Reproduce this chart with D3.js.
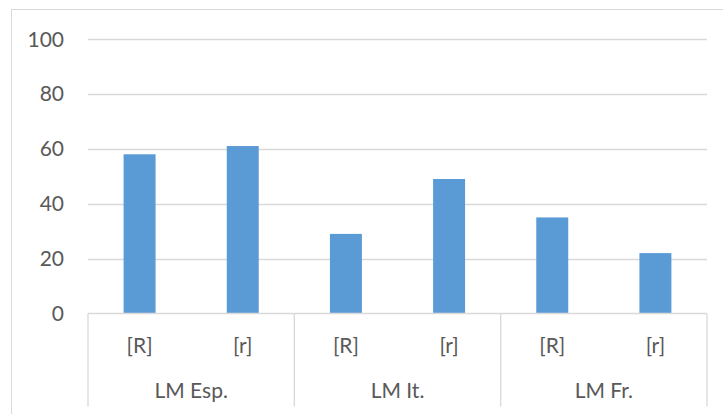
<!DOCTYPE html>
<html>
<head>
<meta charset="utf-8">
<script src="https://cdn.jsdelivr.net/npm/d3@7"></script>
<style>
  body { margin: 0; background: #fff; }
  svg text { font-family: Lato, 'Open Sans', sans-serif; fill: #595959; }
</style>
</head>
<body>
<div id="container"></div>
<script>
const groups = ['LM Esp.', 'LM It.', 'LM Fr.'];
const subLabels = ['[R]', '[r]'];
const values = [58, 61, 29, 49, 35, 22];
const yTicks = [0, 20, 40, 60, 80, 100];

const width = 723;
const height = 414;
const plotLeft = 88;
const plotRight = 707;
const plotTop = 39;
const plotBottom = 313.5;
const fontSize = '21px';

const rows = [];
groups.forEach((g, i) => {
  subLabels.forEach((s, j) => {
    rows.push({ group: g, sub: s, key: g + s, value: values[i * subLabels.length + j] });
  });
});

const svg = d3
  .select('#container')
  .append('svg')
  .attr('width', width)
  .attr('height', height);

// chart border
svg.append('rect')
  .attr('x', 11.5)
  .attr('y', 9.5)
  .attr('width', width + 10)
  .attr('height', height + 10)
  .attr('fill', 'none')
  .attr('stroke', '#d9d9d9');

const x = d3
  .scaleBand()
  .domain(rows.map(d => d.key))
  .range([plotLeft, plotRight])
  .paddingInner(0.69)
  .paddingOuter(0.345);

const xGroup = d3
  .scaleBand()
  .domain(groups)
  .range([plotLeft, plotRight]);

const y = d3.scaleLinear().domain([0, 100]).range([plotBottom, plotTop]);

// gridlines
svg.append('g')
  .selectAll('line')
  .data(yTicks.filter(t => t > 0))
  .enter()
  .append('line')
  .attr('x1', plotLeft)
  .attr('x2', plotRight)
  .attr('y1', d => Math.round(y(d)) + 0.5)
  .attr('y2', d => Math.round(y(d)) + 0.5)
  .attr('stroke', '#d9d9d9')
  .attr('stroke-width', 1.3);

// y labels
svg.append('g')
  .selectAll('text')
  .data(yTicks)
  .enter()
  .append('text')
  .attr('x', 64)
  .attr('y', d => y(d))
  .attr('dy', '0.36em')
  .attr('text-anchor', 'end')
  .attr('font-size', fontSize)
  .text(d => d);

// bars
svg.append('g')
  .selectAll('rect')
  .data(rows)
  .enter()
  .append('rect')
  .attr('x', d => x(d.key))
  .attr('y', d => y(d.value))
  .attr('width', x.bandwidth())
  .attr('height', d => y(0) - y(d.value))
  .attr('fill', '#5b9bd5');

// axis line and group separators
const axis = svg.append('g').attr('stroke', '#d9d9d9').attr('stroke-width', 1.3);
axis.append('line')
  .attr('x1', plotLeft)
  .attr('x2', plotRight)
  .attr('y1', plotBottom)
  .attr('y2', plotBottom);

axis.selectAll('.sep')
  .data(groups.map(g => xGroup(g)).concat([plotRight]))
  .enter()
  .append('line')
  .attr('class', 'sep')
  .attr('x1', d => d)
  .attr('x2', d => d)
  .attr('y1', plotBottom)
  .attr('y2', 406.5);

// sub labels
svg.append('g')
  .selectAll('text')
  .data(rows)
  .enter()
  .append('text')
  .attr('x', d => x(d.key) + x.bandwidth() / 2)
  .attr('y', 345)
  .attr('dy', '0.36em')
  .attr('text-anchor', 'middle')
  .attr('font-size', fontSize)
  .text(d => d.sub);

// group labels
svg.append('g')
  .selectAll('text')
  .data(groups)
  .enter()
  .append('text')
  .attr('x', d => xGroup(d) + xGroup.bandwidth() / 2)
  .attr('y', 390)
  .attr('dy', '0.36em')
  .attr('text-anchor', 'middle')
  .attr('font-size', fontSize)
  .text(d => d);
</script>
</body>
</html>
